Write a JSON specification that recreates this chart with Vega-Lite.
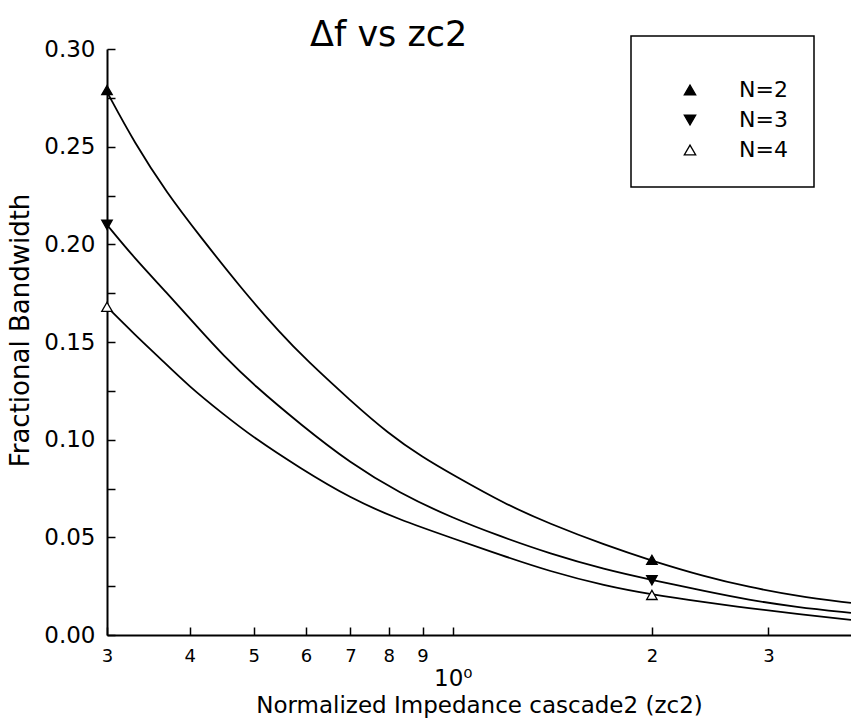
{
  "$schema": "https://vega.github.io/schema/vega-lite/v6.json",
  "width": 744,
  "height": 586,
  "autosize": {"type": "none"},
  "padding": {"left": 107, "top": 49, "right": 0, "bottom": 84},
  "background": "white",
  "title": {
    "text": "Δf vs zc2",
    "anchor": "start",
    "frame": "group",
    "dx": 203,
    "offset": -18,
    "fontSize": 35,
    "font": "DejaVu Sans",
    "fontWeight": "normal",
    "color": "black"
  },
  "config": {
    "view": {"stroke": null},
    "axis": {
      "domainColor": "black",
      "domainWidth": 2,
      "tickColor": "black",
      "tickWidth": 1.5,
      "labelColor": "black",
      "titleColor": "black",
      "labelFont": "DejaVu Sans",
      "titleFont": "DejaVu Sans",
      "titleFontWeight": "normal",
      "grid": false
    },
    "legend": {
      "orient": "none",
      "legendX": 524,
      "legendY": -13,
      "strokeColor": "black",
      "strokeWidth": 1.5,
      "padding": 26,
      "symbolOffset": 22,
      "labelOffset": 38,
      "labelFont": "DejaVu Sans",
      "labelFontSize": 22,
      "labelColor": "black",
      "symbolSize": 130,
      "symbolStrokeWidth": 1.3,
      "rowPadding": 8,
      "titleFontSize": 12,
      "titlePadding": 5
    }
  },
  "datasets": {
    "curves": [
      {"zc2": 0.3, "bw": 0.278, "N": "N=2"},
      {"zc2": 0.33, "bw": 0.252, "N": "N=2"},
      {"zc2": 0.37, "bw": 0.226, "N": "N=2"},
      {"zc2": 0.415, "bw": 0.204, "N": "N=2"},
      {"zc2": 0.48, "bw": 0.177, "N": "N=2"},
      {"zc2": 0.55, "bw": 0.154, "N": "N=2"},
      {"zc2": 0.6, "bw": 0.141, "N": "N=2"},
      {"zc2": 0.7, "bw": 0.12, "N": "N=2"},
      {"zc2": 0.8, "bw": 0.103, "N": "N=2"},
      {"zc2": 0.9, "bw": 0.091, "N": "N=2"},
      {"zc2": 1.0, "bw": 0.082, "N": "N=2"},
      {"zc2": 1.2, "bw": 0.067, "N": "N=2"},
      {"zc2": 1.4, "bw": 0.057, "N": "N=2"},
      {"zc2": 1.7, "bw": 0.046, "N": "N=2"},
      {"zc2": 2.0, "bw": 0.038, "N": "N=2"},
      {"zc2": 2.4, "bw": 0.030, "N": "N=2"},
      {"zc2": 2.8, "bw": 0.0246, "N": "N=2"},
      {"zc2": 3.3, "bw": 0.020, "N": "N=2"},
      {"zc2": 4.0, "bw": 0.0164, "N": "N=2"},
      {"zc2": 0.3, "bw": 0.21, "N": "N=3"},
      {"zc2": 0.33, "bw": 0.193, "N": "N=3"},
      {"zc2": 0.37, "bw": 0.175, "N": "N=3"},
      {"zc2": 0.41, "bw": 0.158, "N": "N=3"},
      {"zc2": 0.45, "bw": 0.143, "N": "N=3"},
      {"zc2": 0.5, "bw": 0.128, "N": "N=3"},
      {"zc2": 0.59, "bw": 0.1075, "N": "N=3"},
      {"zc2": 0.7, "bw": 0.088, "N": "N=3"},
      {"zc2": 0.83, "bw": 0.0727, "N": "N=3"},
      {"zc2": 1.0, "bw": 0.0598, "N": "N=3"},
      {"zc2": 1.18, "bw": 0.0505, "N": "N=3"},
      {"zc2": 1.4, "bw": 0.0417, "N": "N=3"},
      {"zc2": 1.7, "bw": 0.0335, "N": "N=3"},
      {"zc2": 2.0, "bw": 0.0282, "N": "N=3"},
      {"zc2": 2.4, "bw": 0.0225, "N": "N=3"},
      {"zc2": 2.8, "bw": 0.018, "N": "N=3"},
      {"zc2": 3.3, "bw": 0.0143, "N": "N=3"},
      {"zc2": 4.0, "bw": 0.0113, "N": "N=3"},
      {"zc2": 0.3, "bw": 0.168, "N": "N=4"},
      {"zc2": 0.33, "bw": 0.154, "N": "N=4"},
      {"zc2": 0.36, "bw": 0.142, "N": "N=4"},
      {"zc2": 0.4, "bw": 0.127, "N": "N=4"},
      {"zc2": 0.45, "bw": 0.113, "N": "N=4"},
      {"zc2": 0.5, "bw": 0.101, "N": "N=4"},
      {"zc2": 0.587, "bw": 0.0855, "N": "N=4"},
      {"zc2": 0.7, "bw": 0.070, "N": "N=4"},
      {"zc2": 0.83, "bw": 0.059, "N": "N=4"},
      {"zc2": 1.0, "bw": 0.0495, "N": "N=4"},
      {"zc2": 1.18, "bw": 0.041, "N": "N=4"},
      {"zc2": 1.4, "bw": 0.0326, "N": "N=4"},
      {"zc2": 1.7, "bw": 0.0252, "N": "N=4"},
      {"zc2": 2.0, "bw": 0.0207, "N": "N=4"},
      {"zc2": 2.4, "bw": 0.0168, "N": "N=4"},
      {"zc2": 2.8, "bw": 0.0138, "N": "N=4"},
      {"zc2": 3.3, "bw": 0.0108, "N": "N=4"},
      {"zc2": 4.0, "bw": 0.0077, "N": "N=4"}
    ],
    "markers": [
      {"zc2": 0.3, "bw": 0.279, "N": "N=2"},
      {"zc2": 2.0, "bw": 0.0385, "N": "N=2"},
      {"zc2": 0.3, "bw": 0.21, "N": "N=3"},
      {"zc2": 2.0, "bw": 0.028, "N": "N=3"},
      {"zc2": 0.3, "bw": 0.168, "N": "N=4"},
      {"zc2": 2.0, "bw": 0.0205, "N": "N=4"}
    ]
  },
  "encoding": {
    "x": {
      "field": "zc2",
      "type": "quantitative",
      "scale": {"type": "log", "domain": [0.3, 4.0], "nice": false},
      "axis": {
        "title": "Normalized Impedance cascade2 (zc2)",
        "titleFontSize": 23,
        "titlePadding": 4,
        "values": [0.3, 0.4, 0.5, 0.6, 0.7, 0.8, 0.9, 1, 2, 3],
        "labelExpr": "datum.value < 0.95 ? format(datum.value * 10, '.0f') : (datum.value < 1.5 ? '10⁰' : format(datum.value, '.0f'))",
        "labelFontSize": {"condition": {"test": "datum.value == 1", "value": 23}, "value": 18},
        "labelPadding": {"condition": {"test": "datum.value == 1", "value": 40}, "value": 20},
        "labelFlush": false,
        "labelOverlap": false,
        "tickSize": -8
      }
    },
    "y": {
      "field": "bw",
      "type": "quantitative",
      "scale": {"domain": [0, 0.3], "nice": false, "zero": true},
      "axis": {
        "title": "Fractional Bandwidth",
        "titleFontSize": 26,
        "titlePadding": 10,
        "titleY": 281,
        "values": [0, 0.025, 0.05, 0.075, 0.1, 0.125, 0.15, 0.175, 0.2, 0.225, 0.25, 0.275, 0.3],
        "labelExpr": "abs(round(datum.value * 1000)) % 50 == 0 ? format(datum.value, '.2f') : ''",
        "labelFontSize": 23,
        "labelPadding": 20,
        "labelFlush": false,
        "labelOverlap": false,
        "tickSize": -8
      }
    }
  },
  "layer": [
    {
      "data": {"name": "curves"},
      "mark": {"type": "line", "color": "black", "strokeWidth": 1.8, "interpolate": "basis"},
      "encoding": {"detail": {"field": "N", "type": "nominal"}}
    },
    {
      "data": {"name": "markers"},
      "mark": {"type": "point", "filled": true, "strokeWidth": 1.3, "size": 110, "opacity": 1},
      "encoding": {
        "shape": {
          "field": "N",
          "type": "nominal",
          "scale": {"domain": ["N=2", "N=3", "N=4"], "range": ["triangle-up", "triangle-down", "triangle-up"]},
          "legend": {"title": " ", "symbolSize": 130}
        },
        "fill": {
          "field": "N",
          "type": "nominal",
          "scale": {"domain": ["N=2", "N=3", "N=4"], "range": ["black", "black", "white"]},
          "legend": {"title": " ", "symbolSize": 130}
        },
        "stroke": {
          "field": "N",
          "type": "nominal",
          "scale": {"domain": ["N=2", "N=3", "N=4"], "range": ["black", "black", "black"]},
          "legend": {"title": " ", "symbolSize": 130}
        }
      }
    }
  ]
}
